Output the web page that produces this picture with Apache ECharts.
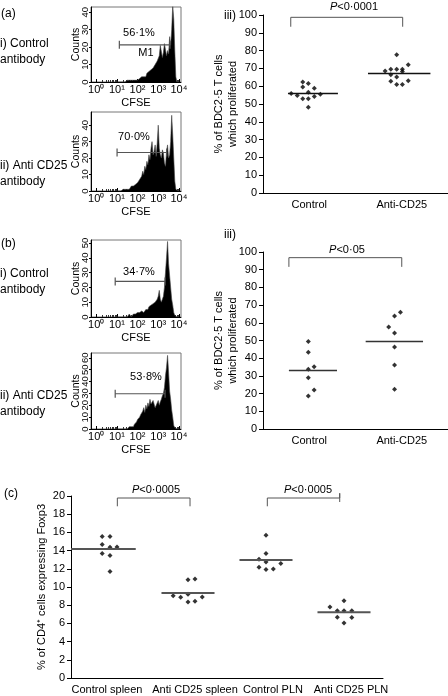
<!DOCTYPE html>
<html><head><meta charset="utf-8">
<script src="https://cdn.jsdelivr.net/npm/echarts@6/dist/echarts.min.js"></script>
<style>html,body{margin:0;padding:0;background:#fff}#c{width:448px;height:696px}</style>
</head><body><div id="c"></div>
<script>
// ---------- DATA ----------
// Flow histograms: counts per bin, bins start at log10(CFSE)=1.0, step 0.05 decade
const histStart = 1.0, histStep = 0.05;
const histAi  = [0,0,0,0,0,0,0,0,0,0, 1,0,1,2,1,0,1,2,1,2, 1,2,2,1,3,2,3,4,3,5, 4,6,5,7,6,8,7,10,9,12, 11,15,21,22,14,17,22,21,15,18, 16,26,21,30,44,36,18,3,0,0, 0];
const histAii = [0,0,0,0,0,0,1,0,1,2, 1,2,1,2,3,2,3,2,4,3, 5,4,7,6,9,12,10,15,13,18, 16,22,19,26,30,22,24,28,21,29, 40,26,22,20,25,23,17,15,24,28, 20,22,30,46,34,20,6,1,0,0, 0];
const histBi  = [0,0,0,0,0,0,0,1,0,1, 0,1,2,1,0,1,2,1,2,1, 3,2,3,2,4,5,3,4,5,6, 5,7,6,8,7,9,8,10,9,12, 14,18,12,10,12,14,20,30,40,51, 36,28,20,12,8,3,1,0,0,0, 0];
const histBii = [0,0,0,0,0,0,0,0,0,1, 0,1,2,1,2,3,2,4,5,6, 8,7,10,12,11,15,18,14,20,17, 22,19,25,21,20,24,25,18,18,22, 24,20,23,25,28,30,35,45,52,62, 48,32,25,16,10,3,1,0,0,0, 0];
// M1 gates: [from, to] in log10 units, and height in counts
const gateAi = [1.12, 3.57], gateAiY = 21.3;
const gateAii = [1.01, 3.41], gateAiiY = 23.4;
const gateBi = [0.92, 3.33], gateBiY = 24;
const gateBii = [0.92, 3.33], gateBiiY = 29.7;
const gateLabels = ['56·1%', '70·0%', '34·7%', '53·8%'];
const histYMax = [43, 48, 52, 64];
const decadeTicks = [0,1,2,3,4];

// Panel a-iii
const catsAB = ['Control', 'Anti-CD25'];
const ctrlA = [62.4, 61.5, 59.6, 58.9, 55.9, 54.8, 56.6, 55.5, 52.9, 52.9, 54.2, 48.2];
const jitCtrlA = [-0.07, -0.01, -0.07, 0.055, -0.195, -0.13, -0.01, 0.12, -0.07, -0.01, 0.055, -0.01];
const antiA = [77.6, 72.0, 68.6, 69.5, 69.5, 69.5, 68.2, 66.5, 65.2, 63.0, 62.8, 60.9, 60.9];
const jitAntiA = [-0.055, 0.07, -0.18, -0.118, -0.055, 0.007, 0.007, -0.118, -0.055, 0.07, -0.118, -0.055, 0.007];
const meanA = [55.9, 67.2];
// Panel b-iii
const ctrlB = [49.5, 43.4, 33.8, 35.2, 28.9, 22.0, 18.6];
const jitCtrlB = [-0.01, -0.01, -0.01, 0.053, -0.01, 0.053, -0.01];
const antiB = [66.0, 63.8, 57.6, 54.2, 46.3, 36.2, 22.5];
const jitAntiB = [-0.014, -0.078, -0.141, -0.078, -0.078, -0.078, -0.078];
const meanB = [33.0, 49.5];
// Panel c
const catsC = ['Control spleen', 'Anti CD25 spleen', 'Control PLN', 'Anti CD25 PLN'];
const ctrlSpleen = [15.54, 15.54, 14.66, 14.36, 14.40, 13.67, 13.45, 11.69];
const antiSpleen = [10.81, 10.88, 9.05, 8.87, 9.20, 8.90, 8.35, 8.43];
const ctrlPLN = [15.68, 13.67, 13.04, 12.75, 12.57, 12.16, 11.91, 11.98];
const antiPLN = [8.50, 7.81, 7.40, 7.40, 7.40, 6.67, 6.64, 6.05];
const jitCtrlSpleen = [-0.1, 0, -0.1, 0, 0.09, -0.1, 0, 0];
const jitAntiSpleen = [0, 0.09, -0.19, -0.094, 0, 0.183, 0, 0.09];
const jitCtrlPLN = [0, 0, -0.09, 0, 0.19, -0.09, 0, 0.094];
const jitAntiPLN = [0, -0.18, -0.086, 0, 0.1, -0.086, 0.1, 0];
const meanC = [14.18, 9.34, 12.97, 7.22];

// ---------- STYLE / LAYOUT ----------
const FONT = 'Liberation Sans, Arial, Helvetica, sans-serif';
const sup = ['\u2070','\u00b9','\u00b2','\u00b3','\u2074'];
const minorTicks = [];
for (let d = 0; d < 4; d++) for (let k = 2; k <= 9; k++) minorTicks.push(d + Math.log10(k));

const histGeom = [ {top:7, height:75}, {top:112, height:79}, {top:240, height:77}, {top:353, height:76} ];
const grids = histGeom.map(g => ({left:91, top:g.top, width:90, height:g.height, show:true, borderColor:'#777', borderWidth:1}));
grids.push({left:263, top:15, width:192, height:178});   // a-iii
grids.push({left:263, top:252, width:188, height:177});  // b-iii
grids.push({left:71, top:496, width:312, height:182});   // c

const xAxes = [], yAxes = [], series = [];
const black = '#000';
const txt = (s) => Object.assign({color:black, fontFamily:FONT}, s);

const hists = [histAi, histAii, histBi, histBii];
const gates = [[gateAi, gateAiY], [gateAii, gateAiiY], [gateBi, gateBiY], [gateBii, gateBiiY]];
hists.forEach((h, g) => {
  xAxes.push({type:'value', gridIndex:g, min:-0.25, max:4.1, position:'bottom',
    axisLine:{show:true, onZero:false, lineStyle:{color:black, width:1}},
    axisTick:{show:true, inside:true, length:3, customValues:decadeTicks, lineStyle:{color:black}},
    axisLabel:txt({customValues:decadeTicks, formatter:v => '10' + sup[Math.round(v)], fontSize:11, margin:2}),
    splitLine:{show:false},
    name:'CFSE', nameLocation:'middle', nameGap:15, nameMoveOverlap:false, nameTextStyle:txt({fontSize:11})});
  xAxes.push({type:'value', gridIndex:g, min:-0.25, max:4.1, position:'bottom',
    axisLine:{show:false, onZero:false},
    axisTick:{show:true, inside:true, length:2, customValues:minorTicks, lineStyle:{color:'#333'}},
    axisLabel:{show:false}, splitLine:{show:false}});
  yAxes.push({type:'value', gridIndex:g, min:0, max:histYMax[g], interval:10,
    axisLine:{show:true, onZero:false, lineStyle:{color:black}},
    axisTick:{show:true, length:2, lineStyle:{color:black}},
    axisLabel:txt({rotate:90, fontSize:9.5, margin:1, align:'center', verticalAlign:'bottom', showMaxLabel:false, hideOverlap:false}),
    splitLine:{show:false},
    name:'Counts', nameLocation:'middle', nameGap:9, nameMoveOverlap:false, nameTextStyle:txt({fontSize:10.5})});
  series.push({type:'line', xAxisIndex:2*g, yAxisIndex:g, silent:true, symbol:'none',
    data:h.map((c, i) => [histStart + i*histStep, c]),
    lineStyle:{color:'#444', width:0.6}, areaStyle:{color:'#000', opacity:1}});
  const [gr, gy] = gates[g];
  series.push({type:'line', xAxisIndex:2*g, yAxisIndex:g, silent:true,
    data:[[gr[0], gy], [gr[1], gy]], symbol:'rect', symbolSize:[1.2, 8], showSymbol:true,
    itemStyle:{color:'#555'}, lineStyle:{color:'#555', width:1.2}});
});

// scatter panels
function scatterPanel(gi, cats, ymax, yint, yname, nameGap, groups, means, meanExt, meanStyle, bracketPaths, labelFmt) {
  const xi = xAxes.length;
  const lab = txt({fontSize:11, margin:6, interval:0});
  if (labelFmt) Object.assign(lab, labelFmt);
  xAxes.push({type:'category', gridIndex:gi, data:cats, boundaryGap:true, position:'bottom',
    axisLine:{onZero:false, lineStyle:{color:black, width:1}},
    axisTick:{alignWithLabel:true, length:4, lineStyle:{color:black}},
    axisLabel:lab});
  xAxes.push({type:'value', gridIndex:gi, min:-0.5, max:cats.length - 0.5, show:false, position:'bottom'});
  const yi = yAxes.length;
  yAxes.push({type:'value', gridIndex:gi, min:0, max:ymax, interval:yint,
    axisLine:{show:true, onZero:false, lineStyle:{color:black}},
    axisTick:{show:true, length:4, lineStyle:{color:black}},
    axisLabel:txt({fontSize:11, margin:6}),
    splitLine:{show:false},
    name:yname, nameLocation:'middle', nameGap:nameGap, nameMoveOverlap:false, nameTextStyle:txt({fontSize:11, lineHeight:14})});
  groups.forEach(([vals, jit], ci) => {
    series.push({type:'scatter', xAxisIndex:xi+1, yAxisIndex:yi, symbol:'diamond', symbolSize:5,
      itemStyle:{color:black}, data:vals.map((v, k) => [ci + jit[k], v])});
    series.push({type:'line', xAxisIndex:xi+1, yAxisIndex:yi, symbol:'none', silent:true,
      lineStyle:meanStyle, data:[[ci + meanExt[ci][0], means[ci]], [ci + meanExt[ci][1], means[ci]]]});
  });
  bracketPaths.forEach(p => series.push({type:'line', xAxisIndex:xi+1, yAxisIndex:yi, symbol:'none',
    silent:true, clip:false, lineStyle:{color:'#555', width:1}, data:p}));
}

scatterPanel(4, catsAB, 100, 10, '% of BDC2·5 T cells\nwhich proliferated', 23,
  [[ctrlA, jitCtrlA], [antiA, jitAntiA]], meanA, [[-0.23, 0.31], [-0.365, 0.31]],
  {color:'#111', width:1.5},
  [[[-0.2, 93.4], [-0.2, 98.7], [1.01, 98.7], [1.01, 93.4]]]);
scatterPanel(5, catsAB, 100, 10, '% of BDC2·5 T cells\nwhich proliferated', 23,
  [[ctrlB, jitCtrlB], [antiB, jitAntiB]], meanB, [[-0.22, 0.30], [-0.39, 0.23]],
  {color:'#333', width:1.5},
  [[[-0.22, 91.6], [-0.22, 96.8], [1.0, 96.8], [1.0, 91.6]]]);
scatterPanel(6, catsC, 20, 2, '% of CD4\u207a cells expressing Foxp3', 22,
  [[ctrlSpleen, jitCtrlSpleen], [antiSpleen, jitAntiSpleen], [ctrlPLN, jitCtrlPLN], [antiPLN, jitAntiPLN]],
  meanC, [[-0.5, 0.33], [-0.34, 0.34], [-0.34, 0.34], [-0.34, 0.34]],
  {color:'#555', width:2},
  [[[0.094, 18.87], [0.094, 19.78], [1.026, 19.78], [1.026, 18.87]],
   [[2.017, 18.87], [2.017, 19.78], [2.945, 19.78], [2.945, 20.3], [2.945, 19.34]]],
  {formatter:(v, i) => (i === 0 ? '{f|' : '{s|') + v + '}',
   rich:{f:{fontSize:11, fontFamily:FONT, color:black, padding:[0,6,0,0]},
         s:{fontSize:11, fontFamily:FONT, color:black, padding:[0,0,0,14]}}});

// ---------- TEXT ANNOTATIONS ----------
function T(text, x, y, size, align) {
  return {type:'text', x:x, y:y, silent:true, style:{text:text, fill:black, font:(size||12) + 'px ' + FONT,
    align:align||'left', verticalAlign:'middle', textAlign:align||'left', textVerticalAlign:'middle'}};
}
function P(text, x, y) {
  return {type:'text', x:x, y:y, silent:true, style:{text:'{i|P}{n|' + text + '}', fill:black,
    align:'center', verticalAlign:'middle', textAlign:'center', textVerticalAlign:'middle',
    rich:{i:{fontStyle:'italic', fontSize:11, fontFamily:FONT, fill:black}, n:{fontSize:11, fontFamily:FONT, fill:black}}}};
}
const graphic = [
  T('(a)', 1, 14), T('i) Control', 0, 44), T('antibody', 0, 60), T('ii) Anti CD25', 0, 166), T('antibody', 0, 182),
  T('(b)', 1, 244), T('i) Control', 0, 274), T('antibody', 0, 290), T('ii) Anti CD25', 0, 396), T('antibody', 0, 412),
  T('(c)', 4, 494),
  T('iii)', 224, 16), T('iii)', 224, 235),
  T(gateLabels[0], 139, 33, 11, 'center'), T('M1', 146, 53, 11, 'center'),
  T(gateLabels[1], 134, 137, 11, 'center'), T(gateLabels[2], 139, 272, 11, 'center'), T(gateLabels[3], 146, 377, 11, 'center'),
  P('<0·0001', 354, 7), P('<0·05', 347, 250), P('<0·0005', 156, 490), P('<0·0005', 308, 490)
];

const chart = echarts.init(document.getElementById('c'), null, {renderer:'canvas'});
chart.setOption({animation:false, backgroundColor:'#fff', grid:grids, xAxis:xAxes, yAxis:yAxes, series:series, graphic:graphic});
</script></body></html>
